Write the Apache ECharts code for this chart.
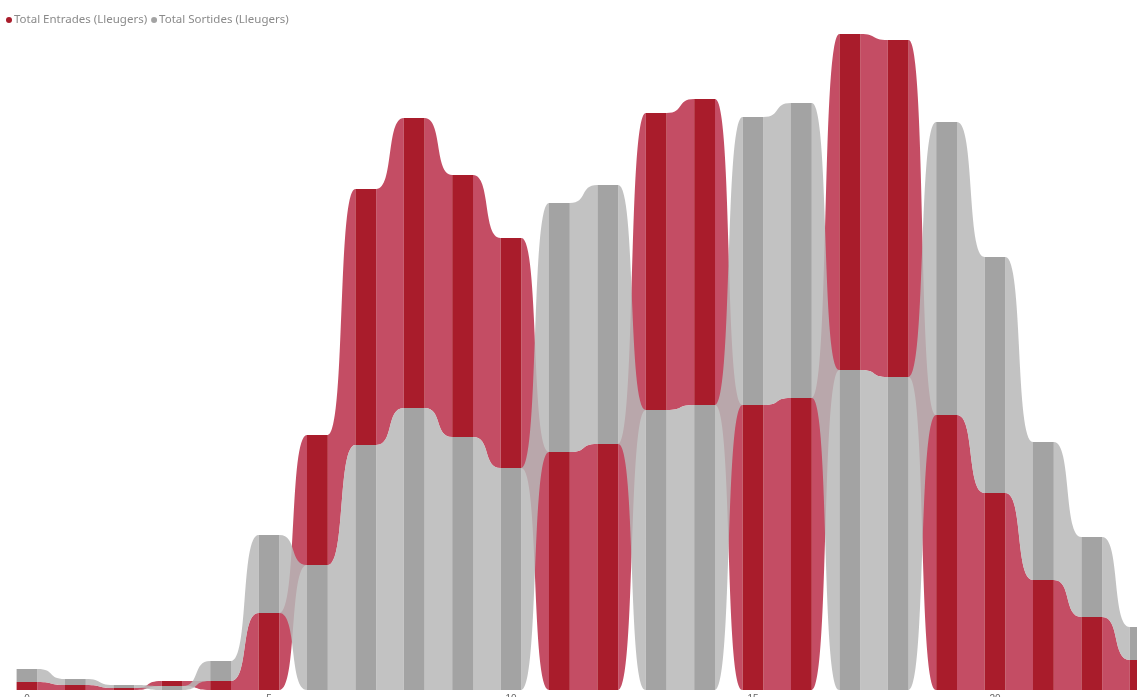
<!DOCTYPE html>
<html>
<head>
<meta charset="utf-8">
<script src="https://cdn.jsdelivr.net/npm/echarts@6/dist/echarts.min.js"></script>
<style>
  html, body { margin: 0; padding: 0; background: #fff; }
  #chart { width: 1137px; height: 697px; }
</style>
</head>
<body>
<div id="chart"></div>
<script>
// hours of the day, one ribbon column each
const hours = ['0', '1', '2', '3', '4', '5', '6', '7', '8', '9', '10', '11',
  '12', '13', '14', '15', '16', '17', '18', '19', '20', '21', '22', '23']
const entrades = [8, 5, 2, 5, 9, 77, 130, 256, 290, 262, 230, 238,
  246, 297, 306, 285, 292, 336, 337, 275, 197, 110, 73, 30]
const sortides = [13, 6, 3, 4, 20, 78, 125, 245, 282, 253, 222, 249,
  259, 280, 285, 288, 295, 320, 313, 293, 236, 138, 80, 33]
const axisTicks = [0, 5, 10, 15, 20]

const SERIES = [
  { name: 'Total Entrades (Lleugers)', color: '#a91c2b', ribbon: 'rgba(186, 46, 73, 0.85)' },
  { name: 'Total Sortides (Lleugers)', color: '#a3a3a3', ribbon: 'rgba(183, 183, 183, 0.85)' }
]
const HALF_COL = 0.215
// how far the bezier handles reach across the gap (0.5 = to the middle)
const HANDLE = 0.66

// the larger value of each hour sits on top of the stack
function segment(i, which) {
  let e = entrades[i]
  let s = sortides[i]
  let entradesOnTop = e > s
  if (which === 0) {
    return entradesOnTop ? [s, s + e] : [0, e]
  }
  return entradesOnTop ? [0, s] : [e, e + s]
}

function makeRenderItem(which) {
  let conf = SERIES[which]
  return function (params, api) {
    let i = api.value(0)
    let seg = segment(i, which)
    let children = []
    if (i < hours.length - 1) {
      let next = segment(i + 1, which)
      let a = api.coord([i + HALF_COL, seg[1]])
      let b = api.coord([i + 1 - HALF_COL, next[1]])
      let c = api.coord([i + HALF_COL, seg[0]])
      let d = api.coord([i + 1 - HALF_COL, next[0]])
      let dx = b[0] - a[0]
      let h0 = a[0] + dx * HANDLE
      let h1 = b[0] - dx * HANDLE
      let path = 'M' + a[0] + ',' + a[1] +
        ' C' + h0 + ',' + a[1] + ' ' + h1 + ',' + b[1] + ' ' + b[0] + ',' + b[1] +
        ' L' + d[0] + ',' + d[1] +
        ' C' + h1 + ',' + d[1] + ' ' + h0 + ',' + c[1] + ' ' + c[0] + ',' + c[1] + ' Z'
      children.push({
        type: 'path',
        shape: { pathData: path },
        style: { fill: conf.ribbon }
      })
    }
    let p0 = api.coord([i - HALF_COL, seg[1]])
    let p1 = api.coord([i + HALF_COL, seg[0]])
    children.push({
      type: 'rect',
      shape: { x: p0[0], y: p0[1], width: p1[0] - p0[0], height: p1[1] - p0[1] },
      style: { fill: conf.color }
    })
    return { type: 'group', children: children }
  }
}

let chart = echarts.init(document.getElementById('chart'))
let rows = hours.map((h, i) => [i, entrades[i], sortides[i]])

chart.setOption({
  animation: false,
  backgroundColor: '#fff',
  legend: {
    left: 1,
    top: 9,
    icon: 'circle',
    itemWidth: 6,
    itemHeight: 6,
    itemGap: 4,
    textStyle: {
      fontFamily: 'Noto Sans',
      fontSize: 11.5,
      color: '#8a8a8a',
      padding: [0, 0, 0, -3]
    },
    data: SERIES.map(s => s.name)
  },
  grid: { left: 0, right: 0, top: 30, bottom: 7, outerBoundsMode: 'none' },
  xAxis: {
    type: 'value',
    min: -0.558,
    max: 22.934,
    axisLine: { show: false },
    axisTick: { show: false },
    splitLine: { show: false },
    axisLabel: {
      customValues: axisTicks,
      formatter: v => hours[v],
      color: '#666',
      fontSize: 10,
      margin: 4
    }
  },
  yAxis: {
    type: 'value',
    min: 0,
    max: 660,
    show: false
  },
  series: SERIES.map((s, k) => ({
    name: s.name,
    type: 'custom',
    clip: true,
    itemStyle: { color: s.color },
    renderItem: makeRenderItem(k),
    encode: { x: 0, y: [1, 2] },
    data: rows
  }))
})
</script>
</body>
</html>
